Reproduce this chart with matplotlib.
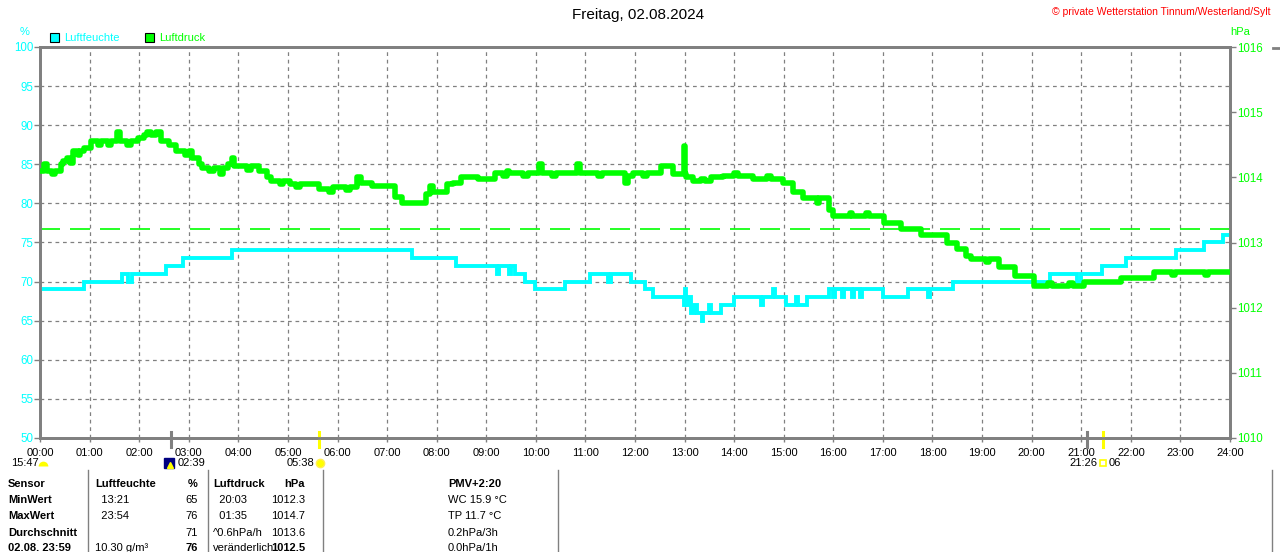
import numpy as np
import matplotlib.pyplot as plt
import matplotlib.transforms as mtransforms
from matplotlib.patches import Rectangle
from matplotlib.lines import Line2D

plt.rcParams['font.family'] = ['Liberation Sans', 'DejaVu Sans']

# humidity (%) step series, time of change -> new value
hum_times = ['00:00', '00:53', '01:39', '01:46', '01:51', '02:33', '02:53', '03:52', '07:30', '08:23',
             '09:13', '09:15', '09:27', '09:30', '09:35', '09:47', '09:59', '10:35', '11:05', '11:27',
             '11:31', '11:55', '12:12', '12:22', '12:59', '13:00', '13:02', '13:05', '13:08', '13:12',
             '13:15', '13:21', '13:22', '13:30', '13:32', '13:44', '14:00', '14:33', '14:35', '14:47',
             '14:49', '15:03', '15:15', '15:17', '15:28', '15:55', '16:00', '16:02', '16:10', '16:13',
             '16:22', '16:25', '16:32', '16:35', '17:00', '17:30', '17:55', '17:57', '18:25', '20:22',
             '20:55', '21:00', '21:25', '21:54', '22:55', '23:29', '23:52', '24:00']
hum_values = [69, 70, 71, 70, 71, 72, 73, 74, 73, 72,
              71, 72, 71, 72, 71, 70, 69, 70, 71, 70,
              71, 70, 69, 68, 67, 69, 67, 68, 66, 67,
              66, 65, 66, 67, 66, 67, 68, 67, 68, 69,
              68, 67, 68, 67, 68, 69, 68, 69, 68, 69,
              68, 69, 68, 69, 68, 69, 68, 69, 70, 71,
              70, 71, 72, 73, 74, 75, 76, 76]

# air pressure (hPa) step series
press_times = ['00:00', '00:05', '00:08', '00:15', '00:18', '00:25', '00:28', '00:33', '00:36', '00:40',
               '00:46', '00:49', '00:53', '01:02', '01:10', '01:14', '01:22', '01:26', '01:33', '01:37',
               '01:45', '01:50', '01:58', '02:06', '02:10', '02:14', '02:20', '02:27', '02:36', '02:44',
               '02:56', '03:00', '03:04', '03:12', '03:16', '03:25', '03:30', '03:38', '03:42', '03:48',
               '03:52', '03:55', '04:10', '04:15', '04:25', '04:35', '04:40', '04:50', '04:54', '05:02',
               '05:10', '05:15', '05:38', '05:50', '05:55', '06:10', '06:15', '06:24', '06:28', '06:42',
               '07:10', '07:18', '07:47', '07:52', '07:56', '08:12', '08:20', '08:29', '08:50', '09:10',
               '09:20', '09:25', '09:28', '09:45', '09:50', '10:04', '10:07', '10:20', '10:25', '10:50',
               '10:53', '11:15', '11:20', '11:48', '11:52', '11:57', '12:10', '12:15', '12:31', '12:46',
               '12:59', '13:00', '13:02', '13:10', '13:20', '13:25', '13:32', '13:47', '14:00', '14:05',
               '14:23', '14:40', '14:45', '14:59', '15:11', '15:23', '15:40', '15:43', '15:55', '16:00',
               '16:20', '16:23', '16:40', '16:43', '17:01', '17:22', '17:46', '18:18', '18:30', '18:40',
               '18:47', '19:05', '19:08', '19:20', '19:40', '20:03', '20:20', '20:25', '20:45', '20:50',
               '21:03', '21:48', '22:28', '22:50', '22:53', '23:30', '23:33', '24:00']
press_values = [1014.10, 1014.20, 1014.10, 1014.05, 1014.10, 1014.20, 1014.25, 1014.30, 1014.22, 1014.40,
                1014.35, 1014.40, 1014.45, 1014.55, 1014.50, 1014.55, 1014.50, 1014.55, 1014.70, 1014.55,
                1014.50, 1014.55, 1014.60, 1014.65, 1014.70, 1014.65, 1014.70, 1014.55, 1014.50, 1014.40,
                1014.35, 1014.40, 1014.30, 1014.20, 1014.15, 1014.10, 1014.15, 1014.05, 1014.15, 1014.20,
                1014.30, 1014.17, 1014.12, 1014.17, 1014.10, 1014.00, 1013.95, 1013.90, 1013.95, 1013.90,
                1013.85, 1013.90, 1013.82, 1013.78, 1013.85, 1013.80, 1013.85, 1014.00, 1013.92, 1013.86,
                1013.70, 1013.60, 1013.75, 1013.86, 1013.77, 1013.90, 1013.92, 1014.00, 1013.97, 1014.07,
                1014.02, 1014.10, 1014.07, 1014.02, 1014.07, 1014.20, 1014.07, 1014.02, 1014.07, 1014.20,
                1014.07, 1014.02, 1014.07, 1013.92, 1014.02, 1014.07, 1014.02, 1014.07, 1014.17, 1014.05,
                1014.48, 1014.05, 1014.00, 1013.94, 1013.98, 1013.94, 1014.00, 1014.02, 1014.07, 1014.02,
                1013.97, 1014.02, 1013.97, 1013.92, 1013.77, 1013.69, 1013.60, 1013.69, 1013.50, 1013.40,
                1013.45, 1013.40, 1013.45, 1013.40, 1013.30, 1013.20, 1013.12, 1013.00, 1012.90, 1012.80,
                1012.74, 1012.70, 1012.74, 1012.63, 1012.48, 1012.33, 1012.38, 1012.33, 1012.38, 1012.33,
                1012.40, 1012.46, 1012.55, 1012.50, 1012.55, 1012.50, 1012.55, 1012.55]
press_mean = 1013.2

hour_labels = ['%02d:00' % h for h in range(25)]
hum_ticks = list(range(50, 101, 5))
press_ticks = list(range(1010, 1017))

moon_rise = '02:39'
moon_mark = '21:07'
sun_rise = '05:38'
sun_set = '21:26'

table_cols = [
    ['Sensor', 'MinWert', 'MaxWert', 'Durchschnitt', '02.08. 23:59'],
    ['Luftfeuchte', '  13:21', '  23:54', '', '10.30 g/m³'],
    ['%', '65', '76', '71', '76'],
    ['Luftdruck', '  20:03', '  01:35', '^0.6hPa/h', 'veränderlich'],
    ['hPa', '1012.3', '1014.7', '1013.6', '1012.5'],
    ['PMV+2:20', 'WC 15.9 °C', 'TP 11.7 °C', '0.2hPa/3h', '0.0hPa/1h'],
]

CYAN = '#00ffff'
GREEN = '#00ff00'
GRAY = '#808080'

W, H = 1280, 552


def hours(t):
    h, m = t.split(':')
    return int(h) + int(m) / 60


def fx(x):
    return x / W


def fy(y):
    return 1 - y / H


fig = plt.figure(figsize=(12.8, 5.52), dpi=100)
ax = fig.add_axes([fx(40), fy(438), 1190 / W, 391 / H])

ax.plot([hours(t) for t in hum_times], hum_values, color=CYAN, lw=2.8,
        drawstyle='steps-post', solid_joinstyle='miter', zorder=3)
ax.set_xlim(0, 24)
ax.set_ylim(50, 100)
ax.set_xticks(range(25))
ax.set_xticklabels(hour_labels)
ax.set_yticks(hum_ticks)
ax.grid(True, color=GRAY, ls=(0, (3, 3)), lw=0.9)
ax.tick_params(axis='y', colors=GRAY, labelcolor=CYAN, labelsize=8.3, length=4, width=1, pad=1)
ax.tick_params(axis='x', colors=GRAY, labelcolor='black', labelsize=8, length=3, width=1, pad=4)
for s in ax.spines.values():
    s.set_color(GRAY)
    s.set_linewidth(2)

ax2 = ax.twinx()
ax2.plot([hours(t) for t in press_times], press_values, color=GREEN, lw=4,
         drawstyle='steps-post', zorder=4)
ax2.axhline(press_mean, color=GREEN, lw=1.2, ls=(0, (12, 6)))
ax2.set_ylim(1010, 1016)
ax2.set_yticks(press_ticks)
ax2.tick_params(axis='y', colors=GRAY, labelcolor=GREEN, labelsize=8.3, length=4, width=1, pad=1)
for s in ax2.spines.values():
    s.set_color(GRAY)
    s.set_linewidth(2)
ax2.set_xlim(0, 24)

# sun / moon markers on the time axis
tr = mtransforms.blended_transform_factory(ax.transData, ax.transAxes)
for t, c in [(moon_rise, GRAY), (moon_mark, GRAY), (sun_rise, '#ffff00'), (sun_set, '#ffff00')]:
    ax.add_line(Line2D([hours(t)] * 2, [0.016, -0.024], color=c, lw=2.2, transform=tr, clip_on=False, zorder=6))

ly = -0.064
ax.text(hours(moon_rise) + 0.12, ly, moon_rise, transform=tr, fontsize=8, ha='left', va='center')
ax.plot(hours(moon_rise) - 0.05, ly, marker='s', ms=7, color='#000080', mec='#000080',
        transform=tr, clip_on=False)
ax.plot(hours(moon_rise) - 0.02, ly - 0.006, marker='^', ms=4, color='#ffff00', mec='#ffff00',
        transform=tr, clip_on=False)
ax.text(hours(sun_rise) - 0.1, ly, sun_rise, transform=tr, fontsize=8, ha='right', va='center')
ax.plot(hours(sun_rise) + 0.02, ly, marker='o', ms=6, color='#ffff00', mec='#ffee55',
        transform=tr, clip_on=False)
ax.text(hours(sun_set) - 0.1, ly, sun_set, transform=tr, fontsize=8, ha='right', va='center')
ax.plot(hours(sun_set), ly, marker='s', ms=5, mfc='none', mec='#ffff00', mew=1.2,
        transform=tr, clip_on=False)
ax.text(hours(sun_set) + 0.12, ly, '06', transform=tr, fontsize=8, ha='left', va='center')
fig.text(fx(11), fy(463), '15:47', fontsize=8, ha='left', va='center')
ax.plot(0.07, ly - 0.008, marker='o', ms=7, fillstyle='top', color='#ffff00', mec='none',
        transform=tr, clip_on=False)

# titles and header texts
fig.text(fx(638), fy(15), 'Freitag, 02.08.2024', fontsize=11, ha='center', va='center')
fig.text(fx(1270), fy(12), '© private Wetterstation Tinnum/Westerland/Sylt', fontsize=7.5,
         color='red', ha='right', va='center')
fig.text(fx(25), fy(32), '%', fontsize=8, color=CYAN, ha='center', va='center')
fig.text(fx(1240), fy(32), 'hPa', fontsize=8, color=GREEN, ha='center', va='center')
fig.patches.append(Rectangle((fx(50), fy(42)), 9 / W, 9 / H, transform=fig.transFigure,
                             facecolor=CYAN, edgecolor='black', lw=0.8))
fig.text(fx(64), fy(38), 'Luftfeuchte', fontsize=8, color=CYAN, ha='left', va='center')
fig.patches.append(Rectangle((fx(145), fy(42)), 9 / W, 9 / H, transform=fig.transFigure,
                             facecolor=GREEN, edgecolor='black', lw=0.8))
fig.text(fx(159), fy(38), 'Luftdruck', fontsize=8, color=GREEN, ha='left', va='center')

# info table below the chart
row_y = [484, 500, 516, 533, 548]
col_x = [(8, 'left'), (95, 'left'), (198, 'right'), (213, 'left'), (305, 'right'), (448, 'left')]
for c, col in enumerate(table_cols):
    x, ha = col_x[c]
    for r, txt in enumerate(col):
        bold = r == 0 or c == 0 or (r == 4 and c in (2, 4))
        if c == 5 and r > 0:
            bold = False
        fig.text(fx(x), fy(row_y[r]), txt, fontsize=8, ha=ha, va='center',
                 fontweight='bold' if bold else 'normal')

for x in [88, 208, 323, 558, 1272]:
    fig.add_artist(Line2D([fx(x), fx(x)], [fy(470), fy(552)], color=GRAY, lw=1,
                          transform=fig.transFigure))
fig.add_artist(Line2D([fx(1273), fx(1280)], [fy(48), fy(48)], color=GRAY, lw=2,
                      transform=fig.transFigure))

fig.savefig('out.png', dpi=100)
